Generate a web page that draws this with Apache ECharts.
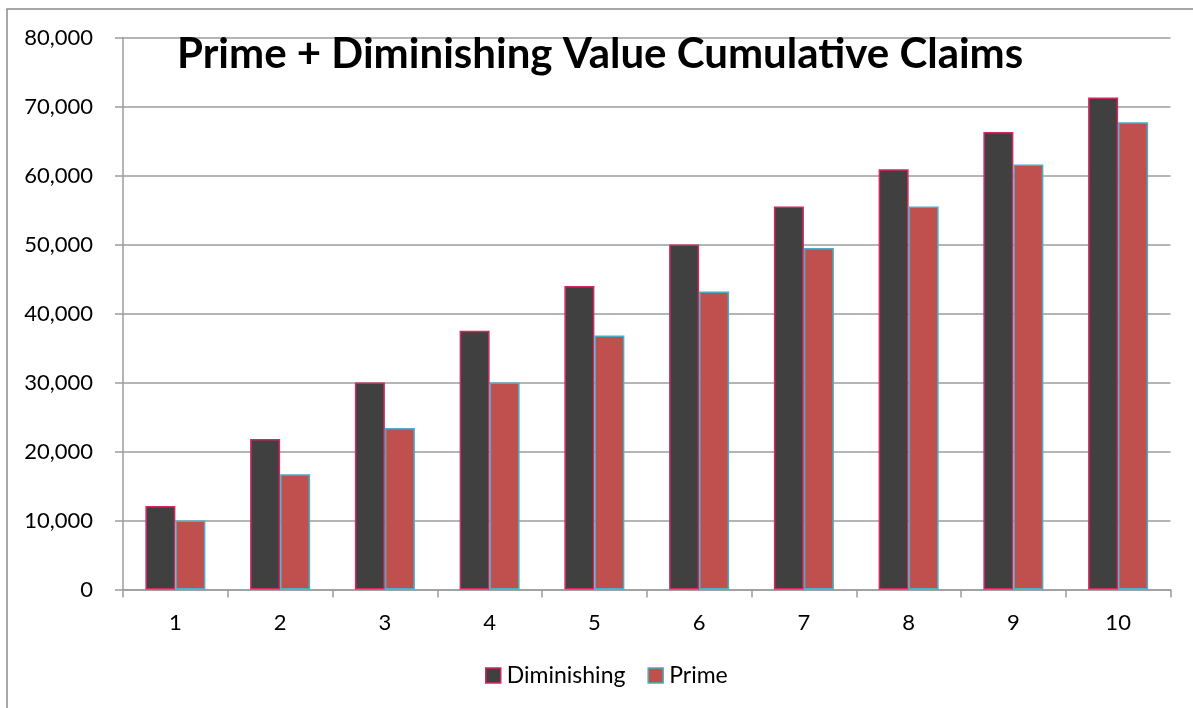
<!DOCTYPE html>
<html>
<head>
<meta charset="utf-8">
<script src="https://cdn.jsdelivr.net/npm/echarts@6/dist/echarts.min.js"></script>
<style>
html,body{margin:0;padding:0;background:#fff;}
#chart{width:1193px;height:708px;}
</style>
</head>
<body>
<div id="chart"></div>
<script>
var categories = ['1','2','3','4','5','6','7','8','9','10'];
var diminishing = [12100, 21800, 30000, 37500, 44000, 50000, 55500, 60900, 66300, 71300];
var prime = [10000, 16700, 23400, 30000, 36800, 43200, 49500, 55500, 61600, 67700];
var yTicks = { min: 0, max: 80000, interval: 10000 };
var titleText = 'Prime + Diminishing Value Cumulative Claims';

var FONT = 'Lato, "Open Sans", "Liberation Sans", sans-serif';
var GRAY = '#9c9c9c';

var chart = echarts.init(document.getElementById('chart'), null, {renderer: 'canvas'});
chart.setOption({
  animation: false,
  backgroundColor: '#ffffff',
  textStyle: { fontFamily: FONT },
  graphic: [
    { type: 'rect', z: -1, silent: true,
      shape: { x: 7, y: 9, width: 1250, height: 760 },
      style: { fill: 'none', stroke: '#8c8c8c', lineWidth: 1.5 } },
    { type: 'text', z: 10, left: 177, top: 33,
      style: { text: titleText, font: 'bold 42px ' + FONT, fill: '#000000' } }
  ],
  grid: { left: 123, right: 22.5, top: 37.5, bottom: 118.5, containLabel: false },
  legend: {
    bottom: 16,
    left: 480,
    itemWidth: 15, itemHeight: 15, itemGap: 22,
    icon: 'rect',
    textStyle: { fontFamily: FONT, fontSize: 23, color: '#000', padding: [0,0,0,1] },
    data: [
      { name: 'Diminishing', itemStyle: { color: '#404040', borderColor: '#D6275D', borderWidth: 1.5 } },
      { name: 'Prime', itemStyle: { color: '#C0504D', borderColor: '#4BACC6', borderWidth: 1.5 } }
    ]
  },
  xAxis: {
    type: 'category',
    data: categories,
    axisLine: { show: true, lineStyle: { color: GRAY, width: 1.5 } },
    axisTick: { show: true, alignWithLabel: false, length: 8, lineStyle: { color: GRAY, width: 1.5 } },
    axisLabel: { fontFamily: FONT, fontSize: 22, color: '#000', margin: 22 },
    splitLine: { show: false }
  },
  yAxis: {
    type: 'value',
    min: yTicks.min, max: yTicks.max, interval: yTicks.interval,
    axisLine: { show: true, lineStyle: { color: GRAY, width: 1.5 } },
    axisTick: { show: true, length: 8, lineStyle: { color: GRAY, width: 1.5 } },
    axisLabel: {
      fontFamily: FONT, fontSize: 22, color: '#000', margin: 30,
      formatter: function (v) { return v.toLocaleString('en-US'); }
    },
    splitLine: { show: true, lineStyle: { color: GRAY, width: 1.5 } }
  },
  series: [
    { name: 'Diminishing', type: 'bar', data: diminishing, barWidth: 30, barGap: '0%',
      itemStyle: { color: '#404040', borderColor: '#D6275D', borderWidth: 1.5 } },
    { name: 'Prime', type: 'bar', data: prime, barWidth: 30, barGap: '0%',
      itemStyle: { color: '#C0504D', borderColor: '#4BACC6', borderWidth: 1.5 } }
  ]
});
</script>
</body>
</html>
